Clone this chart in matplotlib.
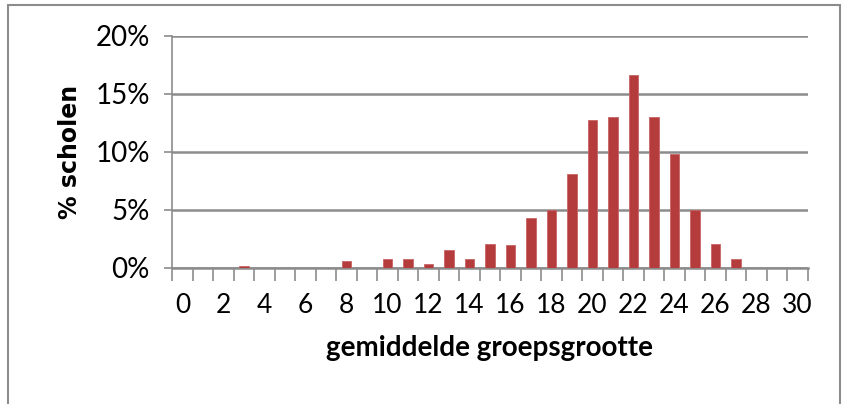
import matplotlib
matplotlib.use("Agg")
from matplotlib import pyplot as plt
from matplotlib.patches import Rectangle
from matplotlib.ticker import FuncFormatter

plt.rcParams['font.family'] = ['Lato', 'DejaVu Sans']

groepsgrootte = list(range(0, 31))
scholen = [0, 0, 0, 0.14, 0, 0, 0, 0, 0.57, 0, 0.77, 0.77, 0.34, 1.57, 0.77,
           2.09, 1.97, 4.26, 5.0, 8.06, 12.77, 12.97, 16.66, 12.97, 9.8,
           5.0, 2.09, 0.77, 0, 0, 0]
x_labels = [str(i) for i in range(0, 31, 2)]

fig = plt.figure(figsize=(8.44, 4.04), dpi=100)
ax = fig.add_axes([0.204, 0.337, 0.753, 0.574])

ax.bar(groepsgrootte, scholen, width=0.48, color="#B43C3C", edgecolor="#C86464", linewidth=0.6, zorder=3)

ax.set_xlim(-0.5, 30.5)
ax.set_ylim(0, 20)
ax.set_yticks([0, 5, 10, 15, 20])
ax.yaxis.set_major_formatter(FuncFormatter(lambda v, p: "%d%%" % v))
ax.grid(axis="y", color="#8c8c8c", linewidth=1.8, zorder=0)

ax.set_xticks(range(0, 31, 2))
ax.set_xticklabels(x_labels)
ax.set_xticks([i - 0.5 for i in range(0, 32)], minor=True)
ax.tick_params(axis="x", which="major", length=0, pad=18, labelsize=19)
ax.tick_params(axis="x", which="minor", length=9, width=1.2, color="#8c8c8c")
ax.tick_params(axis="y", length=6, width=1.2, color="#8c8c8c", labelsize=20, pad=10)

for s in ["top", "right"]:
    ax.spines[s].set_visible(False)
ax.spines["left"].set_color("#8c8c8c")
ax.spines["left"].set_linewidth(1.2)
ax.spines["bottom"].set_color("#8c8c8c")
ax.spines["bottom"].set_linewidth(1.8)

ax.set_ylabel("% scholen", fontsize=17, fontweight="bold", family=["DejaVu Sans"], labelpad=10)
ax.set_xlabel("gemiddelde groepsgrootte", fontsize=20, fontweight="bold", labelpad=12)

fig.patches.append(Rectangle((0.01, -0.01), 0.985, 0.997, transform=fig.transFigure,
                             fill=False, edgecolor="#8c8c8c", linewidth=1.5))

fig.savefig("out.png", dpi=100)
